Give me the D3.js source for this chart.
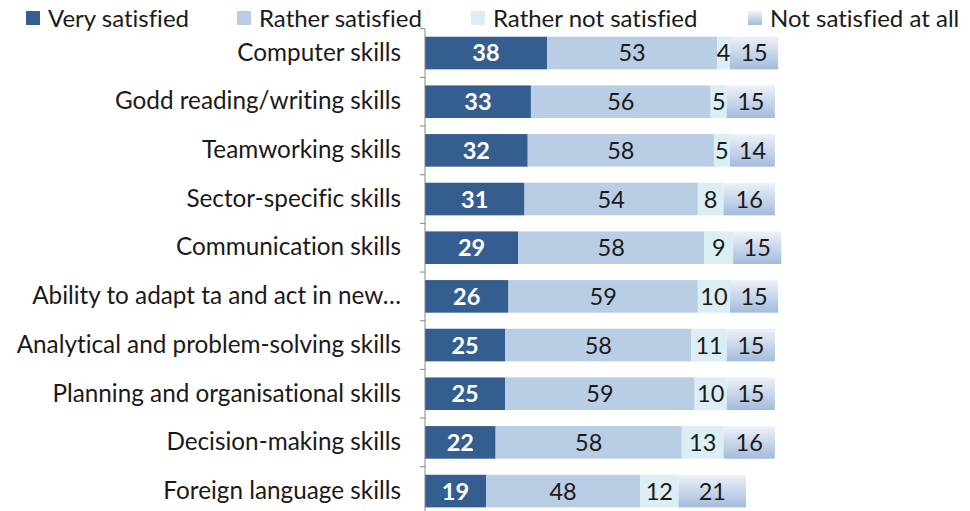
<!DOCTYPE html>
<html>
<head>
<meta charset="utf-8">
<script src="https://cdn.jsdelivr.net/npm/d3@7"></script>
<style>
  html, body { margin: 0; padding: 0; background: #fff; }
  svg { display: block; }
  text { font-family: Lato, "Open Sans", sans-serif; font-variant-ligatures: none; }
</style>
</head>
<body>
<svg id="chart" width="970" height="511"></svg>
<script>
// Skills satisfaction survey, shares by answer
const categories = [
  "Computer skills",
  "Godd reading/writing skills",
  "Teamworking skills",
  "Sector-specific skills",
  "Communication skills",
  "Ability to adapt ta and act in new…",
  "Analytical and problem-solving skills",
  "Planning and organisational skills",
  "Decision-making skills",
  "Foreign language skills"
];
const seriesNames = ["Very satisfied", "Rather satisfied", "Rather not satisfied", "Not satisfied at all"];
const verySatisfied      = [38, 33, 32, 31, 29, 26, 25, 25, 22, 19];
const ratherSatisfied    = [53, 56, 58, 54, 58, 59, 58, 59, 58, 48];
const ratherNotSatisfied = [4, 5, 5, 8, 9, 10, 11, 10, 13, 12];
const notSatisfiedAtAll  = [15, 15, 14, 16, 15, 15, 15, 15, 16, 21];

const seriesValues = [verySatisfied, ratherSatisfied, ratherNotSatisfied, notSatisfiedAtAll];

const svg = d3.select("#chart");
const W = 970, H = 511;

const defs = svg.append("defs");
const grad = defs.append("linearGradient")
  .attr("id", "gradNot").attr("x1", 0).attr("y1", 0).attr("x2", 0).attr("y2", 1);
grad.append("stop").attr("offset", "0%").attr("stop-color", "#eef2f9");
grad.append("stop").attr("offset", "100%").attr("stop-color", "#a3bbdc");

const fills = ["#345e8f", "#b9cde5", "#dbeef4", "url(#gradNot)"];
const textColors = ["#ffffff", "#1a1a1a", "#1a1a1a", "#1a1a1a"];

const rows = categories.map((c, i) => {
  const o = { cat: c };
  seriesNames.forEach((s, k) => { o[s] = seriesValues[k][i]; });
  return o;
});
const stacked = d3.stack().keys(seriesNames)(rows);

const plotLeft = 425;
const plotTop = 28.7, rowStep = 48.67;
const x = d3.scaleLinear().domain([0, 100]).range([plotLeft, plotLeft + 321]);
const y = d3.scaleBand().domain(categories)
  .range([plotTop, plotTop + rowStep * categories.length])
  .paddingInner(0.33).paddingOuter(0.165);

// bars
const layers = svg.append("g").selectAll("g").data(stacked).join("g")
  .attr("fill", (d, k) => fills[k]);
layers.selectAll("rect").data(d => d).join("rect")
  .attr("x", d => x(d[0]))
  .attr("width", d => x(d[1]) - x(d[0]))
  .attr("y", d => y(d.data.cat))
  .attr("height", y.bandwidth());

// value labels
stacked.forEach((layer, k) => {
  svg.append("g").selectAll("text").data(layer).join("text")
    .attr("x", d => (x(d[0]) + x(d[1])) / 2)
    .attr("y", d => y(d.data.cat) + y.bandwidth() / 2)
    .attr("dy", "0.36em")
    .attr("text-anchor", "middle")
    .attr("font-size", 23.5)
    .attr("font-weight", k === 0 ? "bold" : "normal")
    .attr("fill", textColors[k])
    .text(d => d[1] - d[0]);
});

// category axis
const axis = d3.axisLeft(y).tickSize(0).tickPadding(24);
const ag = svg.append("g").attr("transform", `translate(${plotLeft},0)`).call(axis);
ag.select(".domain").attr("stroke", "#868686");
ag.selectAll(".tick text").attr("font-size", 24.3).attr("fill", "#1a1a1a")
  .attr("font-family", "Lato, 'Open Sans', sans-serif");
// boundary tick marks between categories
const bounds = d3.range(categories.length + 1).map(i => plotTop + i * y.step());
ag.append("g").selectAll("line").data(bounds).join("line")
  .attr("x1", -5).attr("x2", 0)
  .attr("y1", d => d).attr("y2", d => d)
  .attr("stroke", "#868686");
ag.select(".domain").attr("d", `M0,${bounds[0]}V${H + 10}`);

// legend
const legendX = [26, 237, 471, 748];
const lg = svg.append("g");
seriesNames.forEach((s, k) => {
  lg.append("rect").attr("x", legendX[k]).attr("y", 11).attr("width", 14).attr("height", 14)
    .attr("fill", fills[k]);
  lg.append("text").attr("x", legendX[k] + 22).attr("y", 18).attr("dy", "0.36em")
    .attr("font-size", 24).attr("fill", "#1a1a1a").text(s);
});
</script>
</body>
</html>
